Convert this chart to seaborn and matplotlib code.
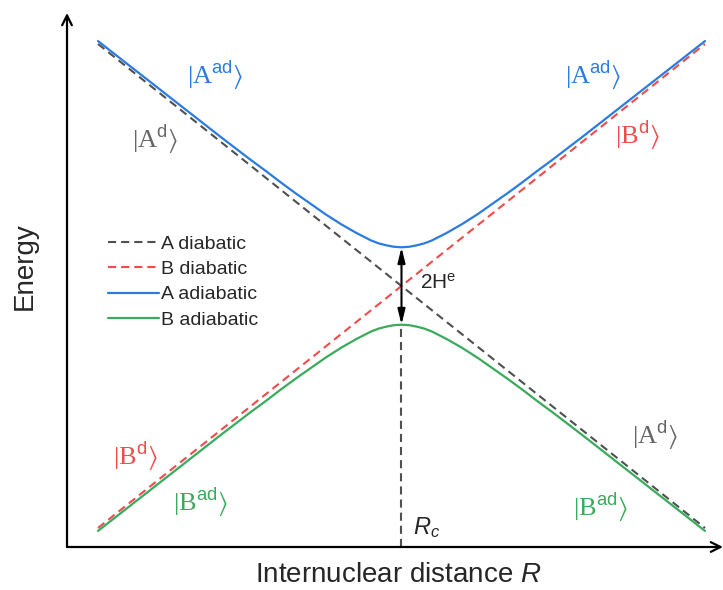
import matplotlib
matplotlib.use("Agg")
import matplotlib.pyplot as plt
import seaborn as sns
import pandas as pd

# Diabatic states: straight lines between the two ends of the R range
R_ends = [0.0, 1.0]
A_diabatic = [1.0, 0.0]
B_diabatic = [0.0, 1.0]

# Adiabatic states sampled along R (denser around the avoided crossing)
R_adiabatic = [0.0, 0.05, 0.1, 0.15, 0.2, 0.25, 0.275, 0.3, 0.325, 0.35, 0.3625, 0.375, 0.3875,
               0.4, 0.4125, 0.425, 0.4375, 0.45, 0.4625, 0.475, 0.4875, 0.5,
               0.5125, 0.525, 0.5375, 0.55, 0.5625, 0.575, 0.5875, 0.6, 0.6125, 0.625, 0.6375,
               0.65, 0.675, 0.7, 0.725, 0.75, 0.8, 0.85, 0.9, 0.95, 1.0]
A_adiabatic = [1.006, 0.957, 0.908, 0.859, 0.810, 0.762, 0.739, 0.715, 0.692, 0.670, 0.659, 0.648, 0.638,
               0.628, 0.619, 0.610, 0.602, 0.594, 0.588, 0.584, 0.581, 0.580,
               0.581, 0.584, 0.588, 0.594, 0.602, 0.610, 0.619, 0.628, 0.638, 0.648, 0.659,
               0.670, 0.692, 0.715, 0.739, 0.762, 0.810, 0.859, 0.908, 0.957, 1.006]
B_adiabatic = [-0.006, 0.043, 0.092, 0.141, 0.190, 0.238, 0.261, 0.285, 0.308, 0.330, 0.341, 0.352, 0.362,
               0.372, 0.381, 0.390, 0.398, 0.406, 0.412, 0.416, 0.419, 0.420,
               0.419, 0.416, 0.412, 0.406, 0.398, 0.390, 0.381, 0.372, 0.362, 0.352, 0.341,
               0.330, 0.308, 0.285, 0.261, 0.238, 0.190, 0.141, 0.092, 0.043, -0.006]

R_c = 0.5
gap_top = 0.580
gap_bottom = 0.420

sns.set_style("white")
plt.rcParams["font.family"] = ["Liberation Sans", "DejaVu Sans"]
plt.rcParams["mathtext.fontset"] = "custom"
plt.rcParams["mathtext.rm"] = "Liberation Serif"
plt.rcParams["mathtext.it"] = "Liberation Sans:italic"
plt.rcParams["mathtext.sf"] = "Liberation Sans"
plt.rcParams["mathtext.fallback"] = "stix"

C_BLUE = "#2b7be0"
C_GREEN = "#3aaa5c"
C_RED = "#f04b4b"
C_GRAY = "#505050"

fig = plt.figure(figsize=(7.23, 5.90), dpi=100)
ax = fig.add_axes([67 / 723, 43 / 590, 656 / 723, 534 / 590])

df_d = pd.DataFrame({"R": R_ends, "A": A_diabatic, "B": B_diabatic})
df_ad = pd.DataFrame({"R": R_adiabatic, "A": A_adiabatic, "B": B_adiabatic})

dash = (3.9, 2.4)
sns.lineplot(data=df_d, x="R", y="A", ax=ax, color=C_GRAY, lw=1.5,
             label="A diabatic").lines[-1].set_dashes(dash)
sns.lineplot(data=df_d, x="R", y="B", ax=ax, color=C_RED, lw=1.5,
             label="B diabatic").lines[-1].set_dashes(dash)
sns.lineplot(data=df_ad, x="R", y="A", ax=ax, color=C_BLUE, lw=1.6, label="A adiabatic")
sns.lineplot(data=df_ad, x="R", y="B", ax=ax, color=C_GREEN, lw=1.6, label="B adiabatic")

# Vertical marker at the crossing point R_c
ax.plot([R_c, R_c], [-0.0393, gap_bottom], color=C_GRAY, lw=1.5, dashes=dash, zorder=1)

# Double arrow showing the coupling gap
ax.annotate("", xy=(R_c, gap_top), xytext=(R_c, gap_bottom),
            arrowprops=dict(arrowstyle="<|-|>,head_width=0.22,head_length=0.9",
                            color="black", lw=1.5, shrinkA=0, shrinkB=0))
ax.text(0.530, 0.506, r"$\mathsf{2H}^{\mathsf{e}}$", fontsize=15, ha="left", va="center")
ax.text(0.542, 0.0, r"$R_c$", fontsize=17, ha="center", va="center")

ax.set_xlim(-0.0511, 1.0297)
ax.set_ylim(-0.0393, 1.064)
ax.set_xticks([])
ax.set_yticks([])
ax.set_xlabel("")
ax.set_ylabel("")
for s in ax.spines.values():
    s.set_visible(False)

# Axes drawn as arrows
arrow_kw = dict(arrowstyle="->,head_width=0.35,head_length=0.7", color="black", lw=1.6,
                shrinkA=0, shrinkB=0)
ax.annotate("", xy=(1.0, 0.0), xytext=(0.0, 0.0), xycoords="axes fraction",
            textcoords="axes fraction", arrowprops=arrow_kw, annotation_clip=False)
ax.annotate("", xy=(0.0, 1.0), xytext=(0.0, 0.0), xycoords="axes fraction",
            textcoords="axes fraction", arrowprops=arrow_kw, annotation_clip=False)

# State labels
kets = [
    (0.193, 0.936, "A", "ad", C_BLUE),
    (0.094, 0.802, "A", "d", "#666666"),
    (0.815, 0.936, "A", "ad", C_BLUE),
    (0.888, 0.812, "B", "d", C_RED),
    (0.061, 0.147, "B", "d", C_RED),
    (0.168, 0.052, "B", "ad", C_GREEN),
    (0.918, 0.192, "A", "d", "#666666"),
    (0.827, 0.043, "B", "ad", C_GREEN),
]
for x, y, st, sup, col in kets:
    ax.text(x, y, r"$|\mathrm{%s}^{\mathsf{%s}}\rangle$" % (st, sup), color=col,
            fontsize=19, ha="center", va="center")

fig.text(398 / 723, 1 - 575 / 590, r"Internuclear distance $R$", fontsize=20,
         ha="center", va="center")
fig.text(25 / 723, 1 - 266 / 590, "Energy", fontsize=20, rotation=90,
         ha="center", va="center")

leg = ax.legend(loc="upper left", bbox_to_anchor=((108 - 67) / 656, (547 - 235) / 534),
                frameon=False, fontsize=14, handlelength=2.6, handletextpad=0.15,
                labelspacing=0.4, borderpad=0, borderaxespad=0)
leg.get_lines()[0].set_dashes(dash)
leg.get_lines()[1].set_dashes(dash)

fig.savefig("out.png", dpi=100)
